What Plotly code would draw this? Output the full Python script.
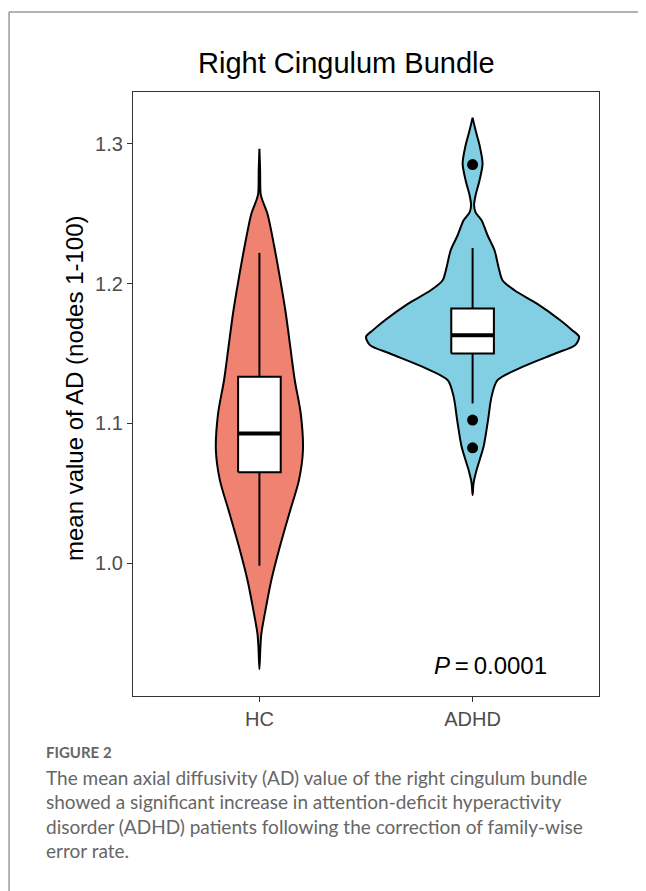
import plotly.graph_objects as go

# ---------------- data ----------------
categories = ["HC", "ADHD"]
cat_pos = [1, 2]

# violin outlines: AD values and relative density (arbitrary units)
hc_vals = [0.9243, 0.9405, 0.9500, 0.9643, 0.9881, 1.0119, 1.0357, 1.0595, 1.0809,
           1.1071, 1.1309, 1.1547, 1.1786, 1.2024, 1.2261, 1.2500, 1.2595, 1.2643,
           1.2809, 1.2964]
hc_dens = [0, 1, 2, 5.5, 12, 20.5, 30, 39.7, 43.7,
           41.5, 35.5, 31, 26.5, 21, 15, 8, 3, 1.2,
           0.7, 0]

adhd_vals = [1.0488, 1.0574, 1.0667, 1.0833, 1.1024, 1.1190, 1.1309, 1.1404, 1.1500,
             1.1560, 1.1619, 1.1667, 1.1738, 1.1855, 1.1952, 1.2024, 1.2119, 1.2238,
             1.2345, 1.2452, 1.2509, 1.2559, 1.2631, 1.2738, 1.2857, 1.2988, 1.3095,
             1.3186]
adhd_dens = [0, 1, 4, 11, 15.5, 19, 25, 50, 83,
             103, 107, 100, 88, 65, 42, 30, 26, 22,
             15, 9, 3, 1.5, 3, 7, 10, 7, 3,
             0]

# box statistics
q1 = [1.0652, 1.1500]
median = [1.0929, 1.1631]
q3 = [1.1333, 1.1821]
lower_whisker = [0.9983, 1.1143]
upper_whisker = [1.2219, 1.2254]

# outliers (ADHD)
outlier_vals = [1.2850, 1.1024, 1.0826]
outlier_cat = ["ADHD", "ADHD", "ADHD"]

y_ticks = [1.0, 1.1, 1.2, 1.3]
p_text = "<i>P</i>\u2009=\u20090.0001"
title_text = "Right Cingulum Bundle"
ytitle_text = "mean value of AD (nodes 1-100)"
caption_head = "<b>FIGURE 2</b>"
caption_lines = [
    "The mean axial diffusivity (AD) value of the right cingulum bundle",
    "showed a significant increase in attention-deficit hyperactivity",
    "disorder (ADHD) patients following the correction of family-wise",
    "error rate.",
]

# ---------------- styling ----------------
fills = ["#F08272", "#82CFE3"]
max_half = 0.50
box_w = 0.2
FONT = "Liberation Sans, Arial, sans-serif"
CAP_FONT = "Lato, sans-serif"

OFF = 8  # page body margin
W, H = 646 - OFF, 891 - OFF
ml, mt = 133 - OFF, 92 - OFF
mr = W - (599.3 - OFF)
mb = H - (696 - OFF)
pw, ph = W - ml - mr, H - mt - mb


def px_x(p):
    return (p - OFF - ml) / pw


def px_y(p):
    return (H - mb - (p - OFF)) / ph


fig = go.Figure()

# violins
dmax = max(max(hc_dens), max(adhd_dens))
for pos, vals, dens, col in [(cat_pos[0], hc_vals, hc_dens, fills[0]),
                             (cat_pos[1], adhd_vals, adhd_dens, fills[1])]:
    hw = [d / dmax * max_half for d in dens]
    xs = [pos + h for h in hw] + [pos - h for h in reversed(hw)]
    ys = list(vals) + list(reversed(vals))
    fig.add_trace(go.Scatter(x=xs, y=ys, mode="lines", fill="toself",
                             fillcolor=col,
                             line=dict(color="black", width=2, shape="spline", smoothing=0.8),
                             hoverinfo="skip", showlegend=False))

# boxplots (whiskers, boxes, medians)
for i, pos in enumerate(cat_pos):
    fig.add_trace(go.Scatter(x=[pos, pos], y=[q3[i], upper_whisker[i]], mode="lines",
                             line=dict(color="black", width=2), hoverinfo="skip", showlegend=False))
    fig.add_trace(go.Scatter(x=[pos, pos], y=[lower_whisker[i], q1[i]], mode="lines",
                             line=dict(color="black", width=2), hoverinfo="skip", showlegend=False))
    xl, xr = pos - box_w / 2, pos + box_w / 2
    fig.add_trace(go.Scatter(x=[xl, xr, xr, xl, xl], y=[q1[i], q1[i], q3[i], q3[i], q1[i]],
                             mode="lines", fill="toself", fillcolor="white",
                             line=dict(color="black", width=2), hoverinfo="skip", showlegend=False))
    fig.add_trace(go.Scatter(x=[xl, xr], y=[median[i], median[i]], mode="lines",
                             line=dict(color="black", width=4), hoverinfo="skip", showlegend=False))

# outliers
ox = [cat_pos[categories.index(c)] for c in outlier_cat]
fig.add_trace(go.Scatter(x=ox, y=outlier_vals, mode="markers",
                         marker=dict(color="black", size=11), hoverinfo="skip",
                         showlegend=False))

axis_common = dict(showline=True, mirror=True, linecolor="#333333", linewidth=1.2,
                   ticks="outside", ticklen=5, tickcolor="#333333", tickwidth=1.2,
                   showgrid=False, zeroline=False,
                   tickfont=dict(family=FONT, size=20, color="#4D4D4D"))

fig.update_layout(
    width=W, height=H,
    margin=dict(l=ml, r=mr, t=mt, b=mb),
    paper_bgcolor="white", plot_bgcolor="white",
    xaxis=dict(range=[0.407, 2.593], tickvals=cat_pos, ticktext=categories, **axis_common),
    yaxis=dict(range=[0.9052, 1.3369], tickvals=y_ticks,
               ticktext=[f"{v:.1f}" for v in y_ticks], **axis_common),
    showlegend=False,
)

ann = [
    dict(text=title_text, x=px_x(347), y=px_y(63), xref="paper", yref="paper",
         showarrow=False, xanchor="center", yanchor="middle",
         font=dict(family=FONT, size=29, color="black")),
    dict(text=ytitle_text, x=px_x(75), y=px_y(388), xref="paper", yref="paper",
         showarrow=False, xanchor="center", yanchor="middle", textangle=-90,
         font=dict(family=FONT, size=24, color="black")),
    dict(text=p_text, x=px_x(491), y=px_y(665), xref="paper", yref="paper",
         showarrow=False, xanchor="center", yanchor="middle",
         font=dict(family=FONT, size=24, color="black")),
    dict(text=caption_head, x=px_x(44), y=px_y(752), xref="paper", yref="paper",
         showarrow=False, xanchor="left", yanchor="middle",
         font=dict(family=CAP_FONT, size=15, color="#666666")),
]
for i, line in enumerate(caption_lines):
    ann.append(dict(text=line, x=px_x(44), y=px_y(777 + 24.5 * i), xref="paper", yref="paper",
                    showarrow=False, xanchor="left", yanchor="middle",
                    font=dict(family=CAP_FONT, size=19, color="#666666")))
fig.update_layout(annotations=ann)

fig.update_layout(shapes=[
    dict(type="line", xref="paper", yref="paper", x0=px_x(9), x1=px_x(646), y0=px_y(12), y1=px_y(12),
         line=dict(color="#999999", width=1.5)),
    dict(type="line", xref="paper", yref="paper", x0=px_x(9), x1=px_x(9), y0=px_y(12), y1=px_y(891),
         line=dict(color="#999999", width=1.5)),
])

fig.write_html("out.html")
